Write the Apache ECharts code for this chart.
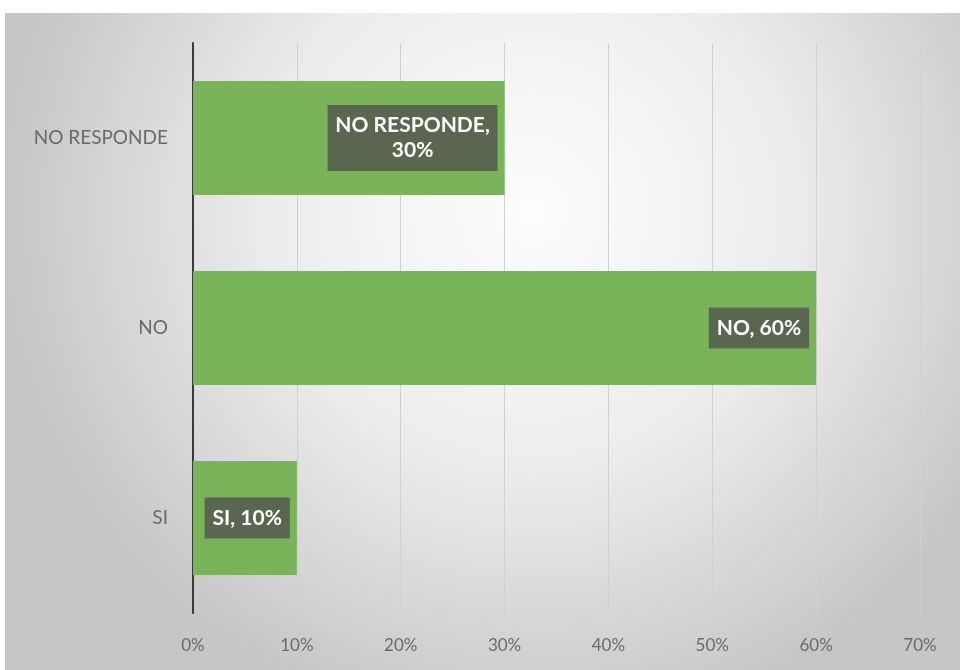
<!DOCTYPE html>
<html>
<head>
<meta charset="utf-8">
<script src="https://cdn.jsdelivr.net/npm/echarts@6/dist/echarts.min.js"></script>
<style>
html,body{margin:0;padding:0;background:#fff;}
#c{width:960px;height:670px;}
</style>
</head>
<body>
<div id="c"></div>
<script>
const categories = ['SI', 'NO', 'NO RESPONDE'];
const values = [0.10, 0.60, 0.30];
const tickLabels = ['0%', '10%', '20%', '30%', '40%', '50%', '60%', '70%'];

const chart = echarts.init(document.getElementById('c'));
chart.setOption({
  animation: false,
  backgroundColor: '#ffffff',
  graphic: [{
    type: 'rect', z: -10, silent: true,
    shape: { x: 5, y: 13, width: 955, height: 657 },
    style: {
      fill: new echarts.graphic.RadialGradient(0.55, 0.3, 0.8, [
        { offset: 0, color: '#fdfdfd' },
        { offset: 0.5, color: '#ececec' },
        { offset: 1, color: '#c6c6c6' }
      ])
    }
  }],
  grid: { left: 193, right: 40, top: 43, bottom: 57 },
  xAxis: {
    type: 'value', min: 0, max: 0.7, interval: 0.1,
    axisLine: { show: false }, axisTick: { show: false },
    splitLine: { show: true, lineStyle: { color: '#d0d0d0', width: 1 } },
    axisLabel: {
      margin: 24, color: '#6a6a6a', fontSize: 17, fontFamily: 'Lato',
      formatter: function (v) { return tickLabels[Math.round(v * 10)]; }
    }
  },
  yAxis: {
    type: 'category', data: categories,
    axisLine: { show: true, lineStyle: { color: '#3a3a3a', width: 2 } },
    axisTick: { show: false },
    axisLabel: { margin: 25, color: '#6a6a6a', fontSize: 19, fontFamily: 'Lato' }
  },
  series: [{
    type: 'bar', data: values, barWidth: '60%',
    itemStyle: { color: '#79b45a' },
    label: {
      show: true, position: 'insideRight', distance: 7,
      formatter: function (p) {
        const pct = Math.round(p.value * 100) + '%';
        return p.name === 'NO RESPONDE'
          ? '{c|' + p.name + ',}\n{c|' + pct + '}'
          : p.name + ', ' + pct;
      },
      color: '#ffffff', fontWeight: 'bold', fontSize: 21, fontFamily: 'Lato',
      backgroundColor: '#5b6651', padding: [8, 8], lineHeight: 25,
      rich: {
        c: { align: 'center', width: 154, color: '#ffffff', fontWeight: 'bold',
             fontSize: 21, fontFamily: 'Lato', lineHeight: 25 }
      }
    }
  }]
});
</script>
</body>
</html>
